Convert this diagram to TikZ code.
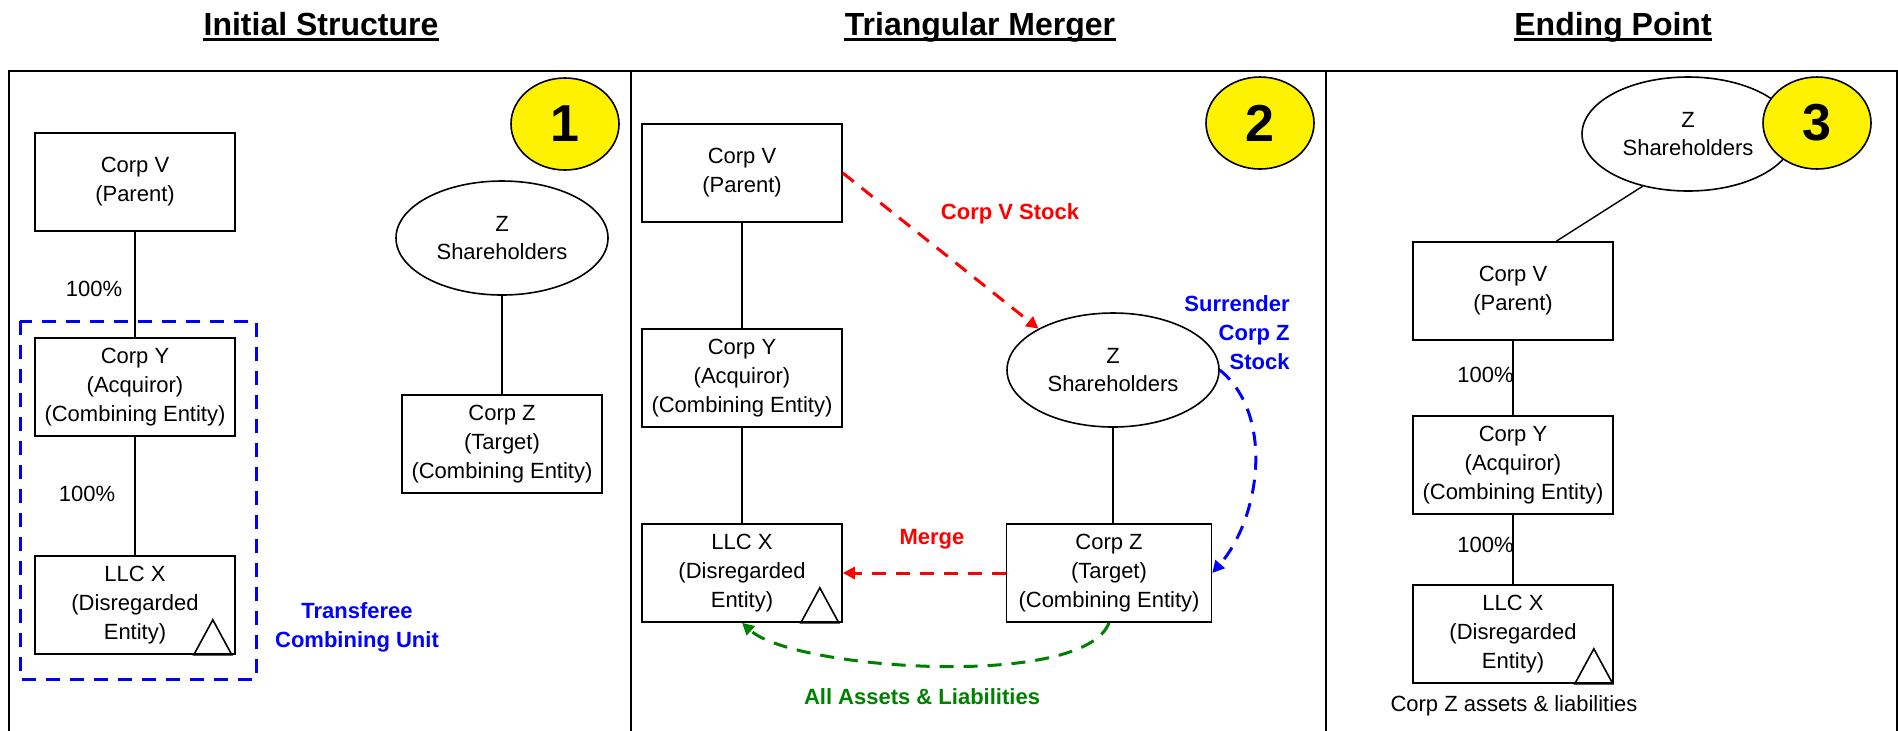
\documentclass[tikz,border=0pt]{standalone}
\usepackage{fontspec}
\setmainfont{Liberation Sans}
\usetikzlibrary{arrows.meta,shapes.geometric}
\definecolor{dgreen}{RGB}{0,128,0}

\begin{document}
\begin{tikzpicture}[x=0.5pt,y=-0.5pt,
    box/.style={shape=rectangle,draw=black,line width=0.8pt,minimum width=100pt,minimum height=49pt,inner sep=0pt,align=center,font=\fontsize{11}{14.5}\selectfont},
    holders/.style={shape=ellipse,draw=black,line width=0.8pt,fill=white,minimum width=106pt,minimum height=57pt,inner sep=0pt,align=center,font=\fontsize{11}{14}\selectfont},
    badge/.style={shape=ellipse,draw=black,line width=0.8pt,fill=yellow,minimum width=54pt,minimum height=46pt,inner sep=0pt,font=\fontsize{26}{30}\selectfont\bfseries},
    heading/.style={inner sep=0pt,anchor=base,font=\fontsize{16}{19}\selectfont\bfseries},
    plain/.style={inner sep=0pt,font=\fontsize{11}{14.5}\selectfont},
    tag/.style={inner sep=0pt,align=center,font=\fontsize{11}{14.5}\selectfont\bfseries},
    link/.style={line width=0.7pt},
    flow/.style={line width=1.5pt,dash pattern=on 7pt off 5pt,-{Triangle[length=6pt,width=6pt]}}]
    \useasboundingbox (0,0) rectangle (1898,730);

    \draw [line width=1.3pt] (9,745) -- (9,71) -- (1897,71) -- (1897,745);
    \draw [line width=1.3pt] (631,71) -- (631,745);
    \draw [line width=1.3pt] (1326,71) -- (1326,745);

    \node[heading] (h1) at (321,35) {Initial Structure};
    \node[heading] (h2) at (980,35) {Triangular Merger};
    \node[heading] (h3) at (1613,35) {Ending Point};
    \draw [line width=1.5pt] ([yshift=-2pt]h1.base west) -- ([yshift=-2pt]h1.base east);
    \draw [line width=1.5pt] ([yshift=-2pt]h2.base west) -- ([yshift=-2pt]h2.base east);
    \draw [line width=1.5pt] ([yshift=-2pt]h3.base west) -- ([yshift=-2pt]h3.base east);

    \node[badge] (n1) at (565,124) {1};
    \node[box] (v1) at (135,182) {Corp V\\(Parent)};
    \node[box] (y1) at (135,387) {Corp Y\\(Acquiror)\\(Combining Entity)};
    \node[box] (x1) at (135,605) {LLC X\\(Disregarded\\Entity)};
    \node[holders] (s1) at (502,238) {Z\\Shareholders};
    \node[box] (z1) at (502,444) {Corp Z\\(Target)\\(Combining Entity)};
    \node[plain] (p1) at (94,289) {100\%};
    \node[plain] (p2) at (87,494) {100\%};
    \node[tag,text=blue] (t1) at (357,627) {Transferee\\Combining Unit};

    \path [link] (v1) edge (y1);
    \path [link] (y1) edge (x1);
    \path [link] (s1) edge (z1);
    \draw [line width=0.8pt] ([xshift=-2pt]x1.south east) -- ++(-19,-35) -- ++(-19,35) -- cycle;
    \draw [blue,line width=1.5pt,dash pattern=on 7pt off 5pt] (20,321) rectangle (256,679);

    \node[badge] (n2) at (1260,123) {2};
    \node[box] (v2) at (742,173) {Corp V\\(Parent)};
    \node[box] (y2) at (742,378) {Corp Y\\(Acquiror)\\(Combining Entity)};
    \node[box] (x2) at (742,573) {LLC X\\(Disregarded\\Entity)};
    \node[holders] (s2) at (1113,370) {Z\\Shareholders};
    \node[box,minimum width=102.5pt] (z2) at (1109,573) {Corp Z\\(Target)\\(Combining Entity)};
    \node[tag,text=red] (l1) at (1010,214) {Corp V Stock};
    \node[tag,text=red] (l2) at (932,539) {Merge};
    \node[tag,text=blue,align=right,anchor=east] (l3) at (1290,333) {Surrender\\Corp Z\\Stock};
    \node[tag,text=dgreen] (l4) at (922,697) {All Assets \& Liabilities};

    \path [link] (v2) edge (y2);
    \path [link] (y2) edge (x2);
    \path [link] (s2) edge (s2 |- z2.north);
    \draw [line width=0.8pt] ([xshift=-2pt]x2.south east) -- ++(-19,-35) -- ++(-19,35) -- cycle;
    \path [flow,red] (v2.east)
            edge (s2.151);
    \path [flow,red] (z2.west)
            edge (x2.east);
    \draw [flow,blue] (s2.east)
            .. controls +(55,45) and +(48,-55) .. (z2.east);
    \draw [flow,dgreen] (z2.south)
            .. controls +(-25,67) and +(52,47) .. (x2.south);

    \node[holders] (s3) at (1688,134) {Z\\Shareholders};
    \node[badge] (n3) at (1817,123) {3};
    \node[box] (v3) at (1513,291) {Corp V\\(Parent)};
    \node[box] (y3) at (1513,465) {Corp Y\\(Acquiror)\\(Combining Entity)};
    \node[box] (x3) at (1513,634) {LLC X\\(Disregarded\\Entity)};
    \node[plain,anchor=east] (p3) at (1514,375) {100\%};
    \node[plain,anchor=east] (p4) at (1514,545) {100\%};
    \node[plain] (c3) at (1514,706) {Corp Z assets \& liabilities};

    \path [link] (s3.229) edge (v3.49);
    \path [link] (v3) edge (y3);
    \path [link] (y3) edge (x3);
    \draw [line width=0.8pt] ([xshift=-0.5pt]x3.south east) -- ++(-19,-35) -- ++(-19,35) -- cycle;
\end{tikzpicture}
\end{document}
